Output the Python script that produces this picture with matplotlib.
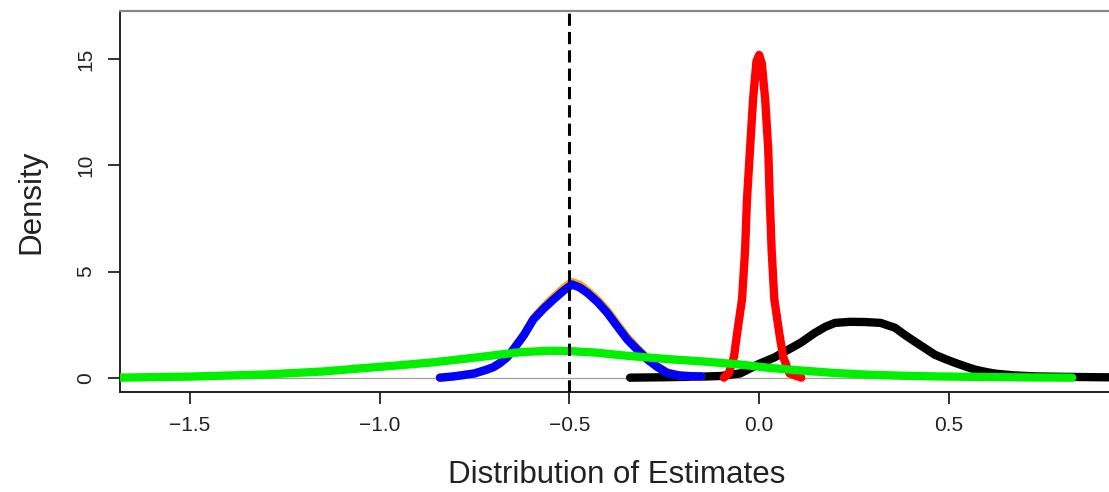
import matplotlib.pyplot as plt
import numpy as np

plt.rcParams['font.family'] = ['Liberation Sans', 'DejaVu Sans']

# black density
blk_x = [-0.34, -0.25, -0.15, -0.10, -0.05, 0.0, 0.04, 0.077, 0.11, 0.146, 0.175, 0.20, 0.24,
         0.28, 0.32, 0.358, 0.385, 0.41, 0.44, 0.463, 0.49, 0.516, 0.545, 0.569, 0.60, 0.622,
         0.67, 0.728, 0.80, 0.90, 0.97]
blk_y = [0.0, 0.02, 0.05, 0.08, 0.2, 0.65, 0.95, 1.32, 1.65, 2.1, 2.4, 2.58, 2.63,
         2.62, 2.58, 2.35, 2.0, 1.7, 1.35, 1.08, 0.88, 0.7, 0.52, 0.38, 0.26, 0.19,
         0.11, 0.06, 0.04, 0.02, 0.01]

# red density
red_x = [-0.093, -0.08, -0.066, -0.058, -0.045, -0.037, -0.032, -0.024, -0.016, -0.007, 0.0,
         0.007, 0.016, 0.024, 0.028, 0.033, 0.04, 0.053, 0.063, 0.08, 0.111]
red_y = [0.0, 0.2, 1.0, 2.1, 3.7, 6.0, 8.4, 10.75, 13.1, 14.9, 15.2,
         14.8, 13.1, 10.75, 8.4, 6.0, 3.7, 2.1, 1.0, 0.2, 0.0]

# orange density (mostly hidden under blue)
org_x = [-0.841, -0.81, -0.788, -0.75, -0.718, -0.70, -0.683, -0.665, -0.648, -0.62, -0.595,
         -0.568, -0.542, -0.515, -0.493, -0.473, -0.453, -0.425, -0.40, -0.373, -0.347, -0.32,
         -0.294, -0.268, -0.242, -0.21, -0.18, -0.153]
org_y = [0.0, 0.05, 0.1, 0.2, 0.36, 0.48, 0.66, 0.92, 1.3, 2.0, 2.78,
         3.32, 3.78, 4.22, 4.5, 4.38, 4.1, 3.65, 3.15, 2.5, 1.88, 1.36,
         0.9, 0.54, 0.25, 0.11, 0.07, 0.06]

# blue density
blu_x = [-0.841, -0.81, -0.788, -0.75, -0.718, -0.70, -0.683, -0.665, -0.648, -0.62, -0.595,
         -0.568, -0.542, -0.515, -0.493, -0.473, -0.453, -0.425, -0.40, -0.373, -0.347, -0.32,
         -0.294, -0.268, -0.242, -0.21, -0.18, -0.153]
blu_y = [0.0, 0.05, 0.1, 0.2, 0.38, 0.5, 0.69, 0.95, 1.32, 2.0, 2.74,
         3.25, 3.68, 4.1, 4.39, 4.25, 4.0, 3.55, 3.05, 2.4, 1.79, 1.3,
         0.85, 0.5, 0.22, 0.1, 0.07, 0.06]

# green density
grn_x = [-1.69, -1.5, -1.30, -1.15, -1.035, -0.95, -0.86, -0.78, -0.70, -0.63, -0.55, -0.497,
         -0.43, -0.365, -0.30, -0.23, -0.153, -0.05, 0.023, 0.10, 0.20, 0.288, 0.38, 0.463,
         0.60, 0.72, 0.825]
grn_y = [0.0, 0.05, 0.15, 0.29, 0.46, 0.58, 0.72, 0.88, 1.05, 1.2, 1.27, 1.25,
         1.18, 1.06, 0.96, 0.86, 0.77, 0.62, 0.47, 0.35, 0.22, 0.14, 0.09, 0.06,
         0.03, 0.01, 0.0]

true_value = -0.5

fig = plt.figure(figsize=(11.09, 4.92), dpi=100)
ax = fig.add_axes([0.1082, 0.2039, 0.8963, 0.7738])

lw = 6
ax.axhline(0, color='#a0a0a0', lw=0.9, zorder=1)
ax.plot(blk_x, blk_y, color='black', lw=lw, solid_capstyle='round', solid_joinstyle='round', zorder=2)
ax.plot(red_x, red_y, color='#ff0000', lw=lw, solid_capstyle='round', solid_joinstyle='round', zorder=3)
ax.plot(org_x, org_y, color='#ffa500', lw=lw, solid_capstyle='round', solid_joinstyle='round', zorder=4)
ax.plot(blu_x, blu_y, color='#0000ff', lw=lw, solid_capstyle='round', solid_joinstyle='round', zorder=5)
ax.plot(grn_x, grn_y, color='#00f000', lw=lw, solid_capstyle='round', solid_joinstyle='round', zorder=6)
ax.axvline(true_value, color='black', lw=2.2, ls=(0, (4, 2)), zorder=7)

ax.set_xlim(-1.684, 0.935)
ax.set_ylim(-0.66, 17.27)
ax.set_xticks([-1.5, -1.0, -0.5, 0.0, 0.5])
ax.set_xticklabels(['\u22121.5', '\u22121.0', '\u22120.5', '0.0', '0.5'])
ax.set_yticks([0, 5, 10, 15])
ax.set_yticklabels(['0', '5', '10', '15'], rotation=90, va='center')

ax.tick_params(direction='out', length=8.6, width=1.3, color='#222222',
               labelsize=15, pad=9, labelcolor='#222222')
for s in ['left', 'bottom']:
    ax.spines[s].set_color('#222222')
    ax.spines[s].set_linewidth(1.4)
ax.spines['top'].set_color('#888888')
ax.spines['top'].set_linewidth(1.6)
ax.spines['right'].set_visible(False)

ax.set_xlabel('Distribution of Estimates', fontsize=22.5, color='#222222')
ax.set_ylabel('Density', fontsize=22.5, color='#222222')
ax.xaxis.set_label_coords(0.5, -0.18)
ax.yaxis.set_label_coords(-0.074, 0.5)

fig.savefig('out.png', dpi=100)
